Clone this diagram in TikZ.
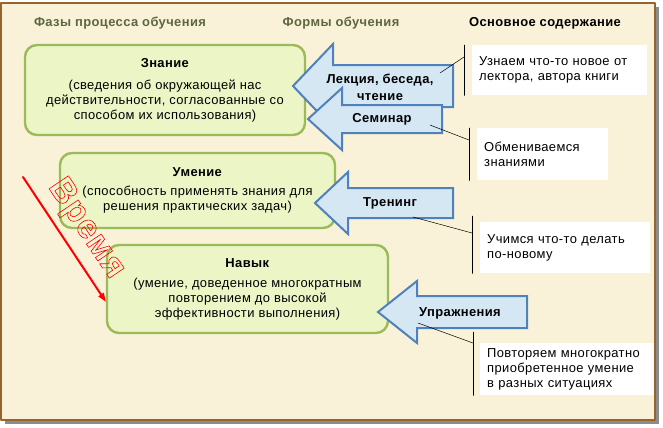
\documentclass[tikz,border=0pt]{standalone}
\usepackage{fontspec}
\setmainfont{Liberation Sans}[LetterSpace=3]
\usetikzlibrary{arrows.meta,positioning}

\definecolor{parch}{RGB}{250,242,216}
\definecolor{framebrown}{RGB}{150,100,45}
\definecolor{hdr}{RGB}{92,102,64}
\definecolor{leaf}{RGB}{155,187,89}
\definecolor{leaffill}{RGB}{236,245,198}
\definecolor{sky}{RGB}{79,129,189}
\definecolor{skyfill}{RGB}{214,231,244}

\newcommand{\txt}{\fontsize{13}{15}\selectfont}
\newcommand{\outlined}[1]{\special{pdf:code 1 Tr 0.6 w}#1\special{pdf:code 0 Tr}}
% block arrow: tip x, head x, end x, y, half shaft, half head
\newcommand{\formarrow}[6]{%
  \draw[form] (#1,#4) -- (#2,#4-#6) -- (#2,#4-#5) -- (#3,#4-#5)
    -- (#3,#4+#5) -- (#2,#4+#5) -- (#2,#4+#6) -- cycle;}

\tikzset{
  header/.style={font=\txt\bfseries, text=hdr},
  phase/.style={draw=leaf, line width=2.4bp, fill=leaffill, rounded corners=12bp,
    align=center, inner sep=0pt, font=\txt},
  form/.style={draw=sky, line width=2bp, fill=skyfill, line join=miter},
  formlbl/.style={font=\txt\bfseries, align=center, inner sep=0pt},
  content/.style={fill=white, align=left, anchor=north west, inner xsep=7bp,
    inner ysep=0pt, font=\txt},
  pointer/.style={black, line width=0.5bp},
}

\begin{document}
\begin{tikzpicture}[x=1bp, y=-1bp, line join=round, line cap=round]
  \useasboundingbox (0,0) rectangle (663,427);
  \fill[black!45] (5,7) rectangle (659,424);
  \draw[framebrown, fill=parch, line width=1.5bp] (1,3) rectangle (655,420);

  % column headers
  \node[header] (hphase) at (120,23) {Фазы процесса обучения};
  \node[header] (hform) at (341,23) {Формы обучения};
  \node[header, text=black] (hcont) at (545,23) {Основное содержание};

  % phases
  \node[phase, minimum width=280bp, minimum height=90bp] (znanie) at (165,90)
    {\textbf{Знание}\\[7bp](сведения об окружающей нас\\действительности, согласованные  со\\способом их использования)};
  \node[phase, minimum width=275bp, minimum height=75bp] (umenie) at (197.5,190.5)
    {\textbf{Умение}\\[4bp](способность применять знания для\\решения практических задач)};
  \node[phase, minimum width=281bp, minimum height=88bp] (navyk) at (247.5,289)
    {\textbf{Навык}\\[5bp](умение, доведенное многократным\\повторением до высокой\\эффективности выполнения)};

  % time arrow
  \draw[red, line width=2bp, -{Triangle[length=9bp,width=6bp]}] (23,177) -- (106,302);
  \node[rotate=-56, text=red, font=\fontsize{34}{34}\selectfont\bfseries] (vremya) at (86,229)
    {\outlined{Время}};

  % forms
  \formarrow{293}{333}{453}{86}{21}{42}
  \formarrow{308}{342}{442}{119}{14}{31}
  \formarrow{315}{348}{453}{203}{15}{31}
  \formarrow{378}{417}{527}{312}{16}{31}
  \node[formlbl] (lekcia) at (380,87) {Лекция, беседа,\\[2bp]чтение};
  \node[formlbl] (seminar) at (382,119) {Семинар};
  \node[formlbl] (trening) at (390,203) {Тренинг};
  \node[formlbl] (uprazh) at (460,313) {Упражнения};

  % contents
  \node[content, text width=161bp, minimum height=50bp] (uznaem) at (472,45)
    {Узнаем что-то новое от\\лектора, автора книги};
  \node[content, text width=117bp, minimum height=52bp] (obmen) at (477,128)
    {Обмениваемся\\знаниями};
  \node[content, text width=156bp, minimum height=51bp] (uchimsya) at (480,222)
    {Учимся что-то делать\\по-новому};
  \node[content, text width=160bp, minimum height=52bp] (povtor) at (480,343)
    {Повторяем многократно\\приобретенное умение\\в разных ситуациях};

  \draw[pointer] ([xshift=-8bp]uznaem.north west) -- ([xshift=-8bp]uznaem.south west);
  \draw[pointer] ([xshift=-8bp]obmen.north west) -- ([xshift=-8bp]obmen.south west);
  \draw[pointer] ([xshift=-8bp,yshift=6bp]uchimsya.north west) -- ([xshift=-8bp]uchimsya.south west);
  \draw[pointer] ([xshift=-7bp,yshift=11bp]povtor.north west) -- ([xshift=-7bp]povtor.south west);

  \coordinate (lekcia-p) at (440,73);
  \coordinate (seminar-p) at (430,125);
  \coordinate (trening-p) at (413,217);
  \coordinate (uprazh-p) at (418,323);
  \coordinate (uznaem-p) at (464,57);
  \coordinate (obmen-p) at (469,140);
  \coordinate (uchimsya-p) at (472,233);
  \coordinate (povtor-p) at (473,343);
  \foreach \a/\b in {lekcia/uznaem, seminar/obmen, trening/uchimsya, uprazh/povtor}
    \draw[pointer] (\a-p) -- (\b-p);
\end{tikzpicture}
\end{document}
